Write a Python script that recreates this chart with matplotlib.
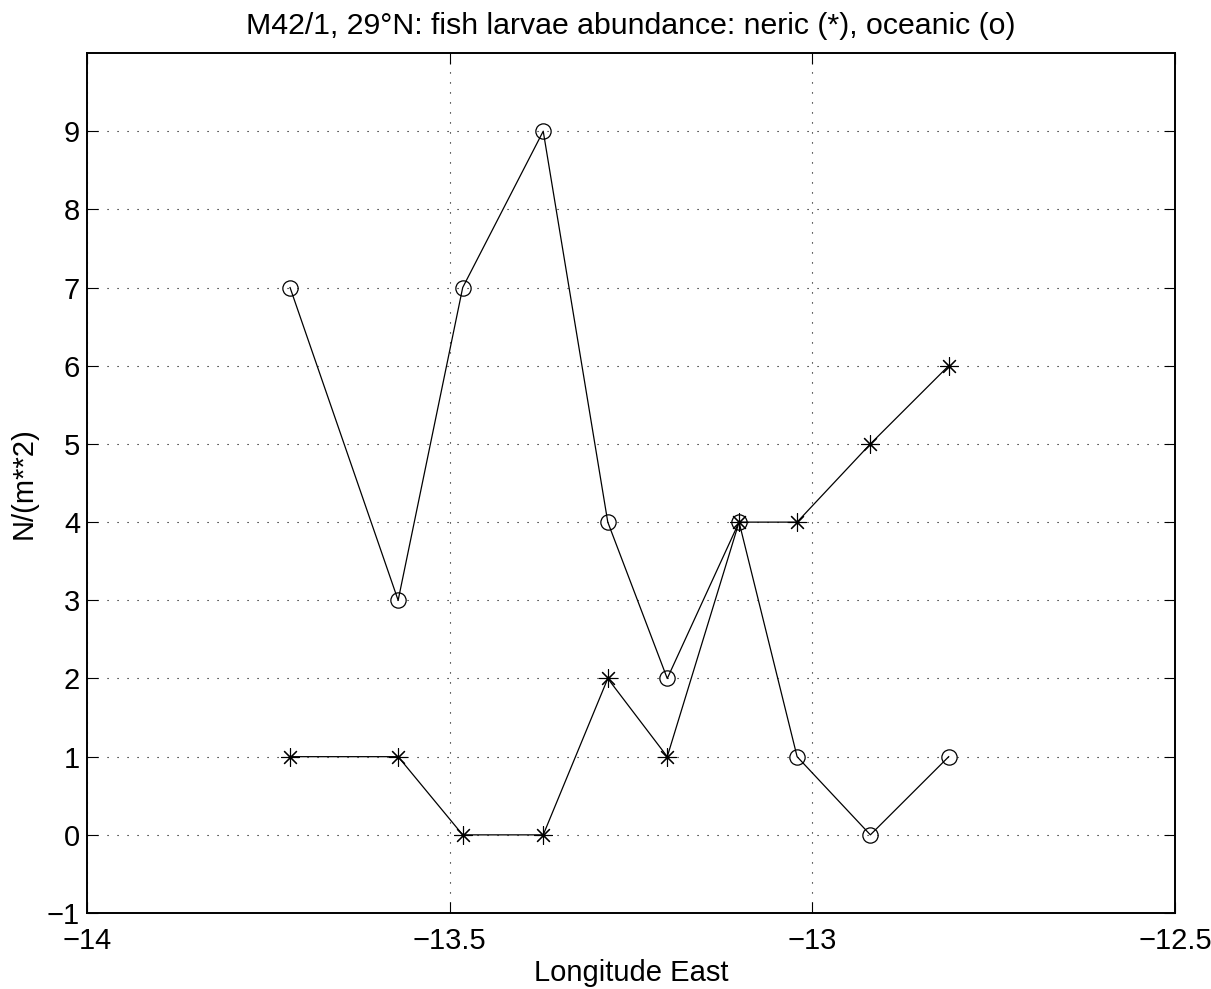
import matplotlib
matplotlib.use('Agg')
import matplotlib.pyplot as plt

plt.rcParams['font.family'] = ['Liberation Sans', 'DejaVu Sans']

lon = [-13.72, -13.571, -13.482, -13.371, -13.282, -13.200, -13.101, -13.021, -12.920, -12.812]
oceanic = [7, 3, 7, 9, 4, 2, 4, 1, 0, 1]
neric = [1, 1, 0, 0, 2, 1, 4, 4, 5, 6]

x_ticks = [-14, -13.5, -13, -12.5]
x_labels = ['\u221214', '\u221213.5', '\u221213', '\u221212.5']
y_ticks = list(range(-1, 10))

fig = plt.figure(figsize=(12.11, 9.89), dpi=100)
ax = fig.add_axes([0.0718, 0.0768, 0.8985, 0.8696])

ax.plot(lon, oceanic, color='black', lw=0.9, marker='o', ms=11,
        mfc='none', mec='black', mew=0.9)
ax.plot(lon, neric, color='black', lw=0.9)
ax.plot(lon, neric, ls='none', marker=(8, 2, 0), ms=13, mec='black', mew=0.8)

ax.set_xlim(-14, -12.5)
ax.set_ylim(-1, 10)
ax.set_xticks(x_ticks)
ax.set_xticklabels(x_labels)
ax.set_yticks(y_ticks)
ax.set_yticklabels([str(v).replace('-', '\u2212') for v in y_ticks])

ax.grid(True, color='black', ls=(0, (1, 8)), lw=0.8)
ax.tick_params(direction='in', length=8, width=0.8, top=True, right=True,
               labelsize=21)
ax.tick_params(axis='x', pad=10)
ax.tick_params(axis='y', pad=5)
for s in ax.spines.values():
    s.set_linewidth(1.4)

ax.set_title('M42/1, 29\u00b0N: fish larvae abundance: neric (*), oceanic (o)',
             fontsize=21.8, pad=14)
ax.set_xlabel('Longitude East', fontsize=21, labelpad=3)
ax.set_ylabel('N/(m**2)', fontsize=21, labelpad=7)

fig.savefig('out.png', dpi=100)
